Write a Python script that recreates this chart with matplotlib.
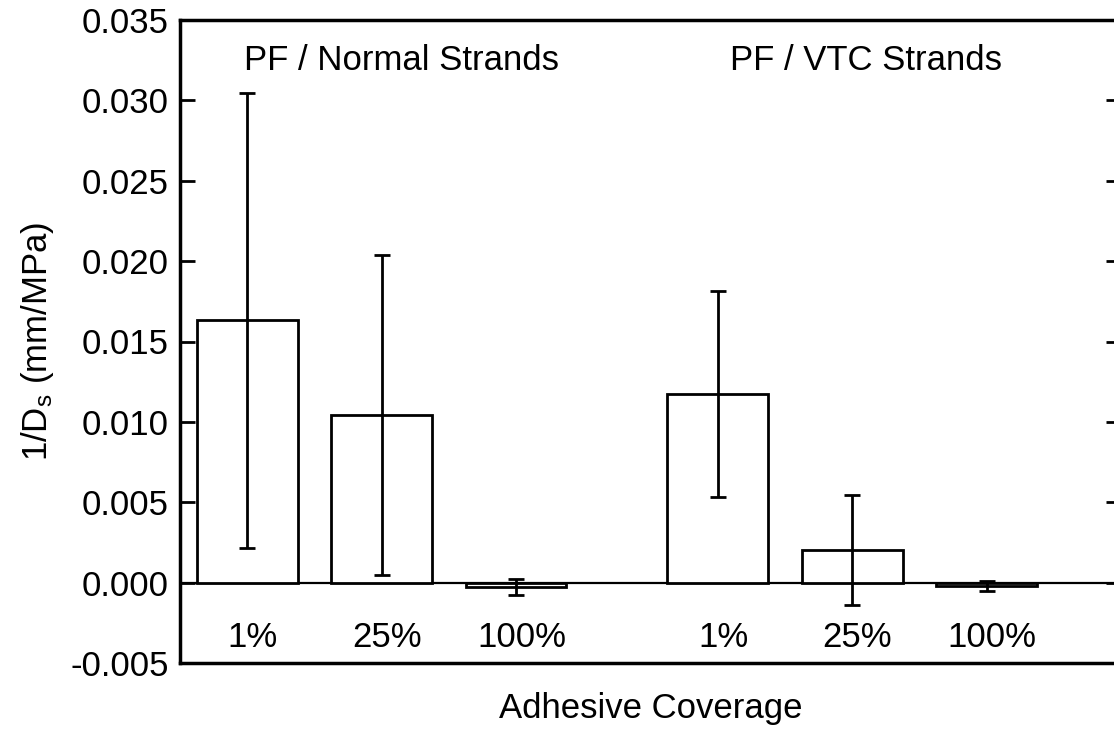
"""
Bar chart of 1/Ds for PF strands at three adhesive coverage levels,
normal strands versus VTC strands, with error bars.
"""

import matplotlib
matplotlib.use('Agg')
import matplotlib.pyplot as plt
import numpy as np

plt.rcParams['font.family'] = ['Liberation Sans', 'DejaVu Sans']
plt.rcParams['mathtext.fontset'] = 'custom'
plt.rcParams['mathtext.rm'] = 'Liberation Sans'
plt.rcParams['mathtext.it'] = 'Liberation Sans'

# data
coverage = ['1%', '25%', '100%']
groups = ['PF / Normal Strands', 'PF / VTC Strands']
normal_mean = [0.01633, 0.01045, -0.00027]
normal_err = [0.01415, 0.00995, 0.00048]
vtc_mean = [0.01175, 0.00205, -0.00021]
vtc_err = [0.00642, 0.00342, 0.00033]


def plot_inverse_ds(output_path='out.png'):
    fig = plt.figure(figsize=(11.14, 7.53), dpi=100)
    ax = fig.add_axes([180 / 1114, 1 - 663 / 753, 941 / 1114, 643 / 753])

    x_normal = np.arange(len(coverage))
    x_vtc = x_normal + len(coverage) + 0.5
    bar_width = 0.75

    for xs, means, errs in [(x_normal, normal_mean, normal_err),
                            (x_vtc, vtc_mean, vtc_err)]:
        ax.bar(xs, means, width=bar_width, color='white', edgecolor='black',
               linewidth=2, zorder=2)
        ax.errorbar(xs, means, yerr=errs, fmt='none', ecolor='black',
                    elinewidth=2, capsize=6, capthick=2, zorder=3)
        for x, label in zip(xs, coverage):
            ax.text(x + 0.04, -0.0034, label, ha='center', va='center',
                    fontsize=25)

    ax.axhline(0, color='black', linewidth=1.6, zorder=1)

    ax.text(x_normal.mean() + 0.15, 0.0325, groups[0], ha='center',
            va='center', fontsize=25)
    ax.text(x_vtc.mean() + 0.1, 0.0325, groups[1], ha='center',
            va='center', fontsize=25)

    ax.set_xlim(-0.5, 6.5)
    ax.set_ylim(-0.005, 0.035)
    ax.set_yticks(np.arange(-0.005, 0.0351, 0.005))
    ax.set_yticklabels(['%.3f' % v for v in np.arange(-0.005, 0.0351, 0.005)])
    ax.set_xticks([])

    ax.tick_params(axis='y', which='both', direction='in', length=11,
                   width=2, labelsize=25, pad=8, right=True)
    for spine in ax.spines.values():
        spine.set_linewidth(2.5)

    ax.set_xlabel('Adhesive Coverage', fontsize=25, labelpad=21)
    ax.set_ylabel(r'1/D$_{\rm s}$ (mm/MPa)', fontsize=25, labelpad=10)

    fig.savefig(output_path, dpi=100)


if __name__ == '__main__':
    plot_inverse_ds()
